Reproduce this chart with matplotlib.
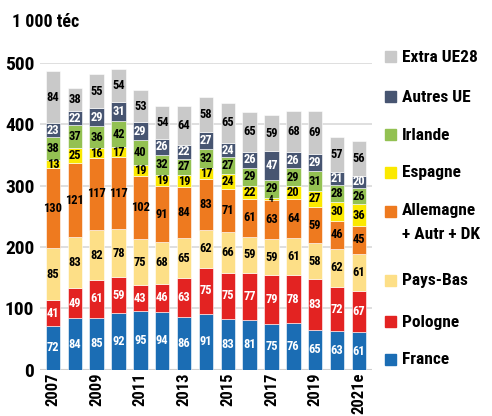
import numpy as np
import matplotlib.pyplot as plt
from matplotlib.patches import Rectangle

plt.rcParams['font.family'] = ['Roboto Condensed', 'DejaVu Sans']
plt.rcParams['font.weight'] = 'bold'

# --- data -----------------------------------------------------------------
years = ["2007", "2008", "2009", "2010", "2011", "2012", "2013", "2014",
         "2015", "2016", "2017", "2018", "2019", "2020", "2021e"]

france    = [72, 84, 85, 92, 95, 94, 86, 91, 83, 81, 75, 76, 65, 63, 61]
pologne   = [41, 49, 61, 59, 43, 46, 63, 75, 75, 77, 79, 78, 83, 72, 67]
pays_bas  = [85, 83, 82, 78, 75, 68, 65, 62, 66, 59, 59, 61, 58, 62, 61]
allemagne = [130, 121, 117, 117, 102, 91, 84, 83, 71, 61, 63, 64, 59, 46, 45]
espagne   = [13, 25, 16, 17, 19, 19, 19, 17, 24, 22, 4, 20, 27, 30, 36]
irlande   = [38, 37, 36, 42, 40, 32, 27, 32, 27, 29, 29, 29, 31, 28, 26]
autres_ue = [23, 22, 29, 31, 29, 26, 22, 27, 24, 26, 47, 26, 29, 21, 20]
extra_ue  = [84, 38, 55, 54, 53, 54, 64, 58, 65, 65, 59, 68, 69, 57, 56]

series = [
    ("France", france, "#1b6db4", "white"),
    ("Pologne", pologne, "#e32322", "white"),
    ("Pays-Bas", pays_bas, "#fddf87", "black"),
    ("Allemagne\n+ Autr + DK", allemagne, "#ee7a1f", "black"),
    ("Espagne", espagne, "#fbe900", "black"),
    ("Irlande", irlande, "#93c152", "black"),
    ("Autres UE", autres_ue, "#475571", "white"),
    ("Extra UE28", extra_ue, "#c9c9c9", "black"),
]

# --- plot -----------------------------------------------------------------
fig = plt.figure(figsize=(4.92, 4.16), dpi=100)
ax = fig.add_axes([0.081, 0.111, 0.675, 0.738])

x = np.arange(len(years))
bottom = np.zeros(len(years))
for name, vals, color, tcol in series:
    vals = np.array(vals, dtype=float)
    ax.bar(x, vals, 0.66, bottom=bottom, color=color,
           edgecolor="white", linewidth=0.4, zorder=2)
    for xi, b, v in zip(x, bottom, vals):
        fs = 6.5 if v < 10 else 9
        ax.text(xi, b + v / 2, f"{int(v)}", ha="center", va="center",
                color=tcol, fontsize=fs, fontweight="bold", zorder=3)
    bottom += vals

ax.set_xlim(-0.6, len(years) - 0.4)
ax.set_ylim(0, 500)
ax.set_yticks(range(0, 501, 100))
ax.yaxis.grid(True, color="#d9d9d9", linewidth=1.2, zorder=0)
ax.set_axisbelow(True)
for s in ax.spines.values():
    s.set_visible(False)
ax.axhline(0, color="#d0d0d0", linewidth=1.5, zorder=1)
ax.tick_params(axis="both", length=0)
ax.tick_params(axis="y", pad=4, labelsize=14)
ax.tick_params(axis="x", pad=2, labelsize=12)
ax.set_xticks(x)
ax.set_xticklabels([y if i % 2 == 0 else "" for i, y in enumerate(years)],
                   rotation=90)
for lab in ax.get_yticklabels() + ax.get_xticklabels():
    lab.set_fontweight("bold")

fig.text(0.024, 0.948, "1 000 téc", fontsize=13, fontweight="bold",
         ha="left", va="center")

# --- legend (manual, top to bottom) ---------------------------------------
leg_y = [57, 97, 135, 173, 212, 281, 322, 360]
for (name, vals, color, tcol), yy in zip(series[::-1], leg_y):
    fy = 1 - yy / 416
    fig.patches.append(Rectangle((385 / 492, fy - 5 / 416), 11 / 492, 11 / 416,
                                 transform=fig.transFigure, color=color))
    if "\n" in name:
        fig.text(402 / 492, fy + 9 / 416, name, fontsize=12.5, fontweight="bold",
                 ha="left", va="top", linespacing=1.75)
    else:
        fig.text(402 / 492, fy, name, fontsize=12.5, fontweight="bold",
                 ha="left", va="center")

fig.savefig("out.png", dpi=100)
